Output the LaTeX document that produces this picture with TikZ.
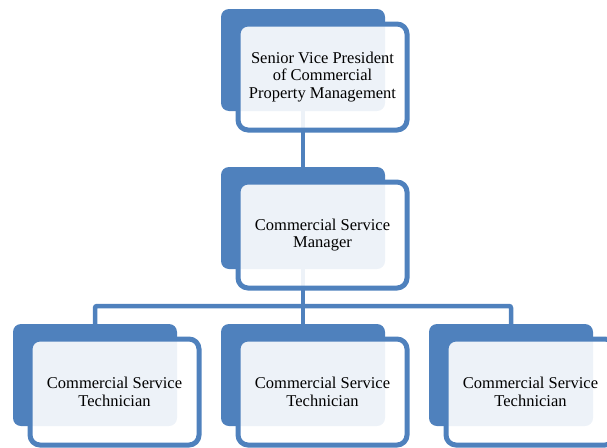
\documentclass[tikz,border=0pt]{standalone}
\usepackage{fontspec}
\setmainfont{Liberation Serif}
\usepackage{tikz}
\usetikzlibrary{positioning}
\definecolor{orgblue}{HTML}{4F81BD}
\pgfdeclarelayer{background}
\pgfsetlayers{background,main}

\begin{document}
\begin{tikzpicture}[x=1pt,y=-1pt,
	back/.style={fill=orgblue,rounded corners=8pt,minimum width=164pt,minimum height=102pt,inner sep=0pt,outer sep=0pt},
	front/.style={draw=orgblue,line width=5pt,fill=white,fill opacity=.9,text opacity=1,rounded corners=10pt,
		minimum width=169pt,minimum height=106pt,inner sep=0pt,outer sep=0pt,align=center,
		font=\fontsize{16.5}{17.5}\selectfont},
	link/.style={draw=orgblue,line width=4.5pt,rounded corners=2pt}]
	\useasboundingbox (0,0) rectangle (607,447);
	\clip (0,0) rectangle (607,447);
		% blue cards
		\node[back] (svp) at (303,60) {};
		\node[back] (csm) at (303,218) {};
		\node[back] (tech1) at (95,375) {};
		\node[back] (tech2) at (303,375) {};
		\node[back] (tech3) at (511,375) {};
		% framed labels
		\node[front] (svpt) at ([shift={(19.5,17)}]svp.center) {Senior Vice President\\of Commercial\\Property Management};
		\node[front] (csmt) at ([shift={(19.5,17)}]csm.center) {Commercial Service\\Manager};
		\node[front] (tech1t) at ([shift={(19.5,17)}]tech1.center) {Commercial Service\\Technician};
		\node[front] (tech2t) at ([shift={(19.5,17)}]tech2.center) {Commercial Service\\Technician};
		\node[front] (tech3t) at ([shift={(19.5,17)}]tech3.center) {Commercial Service\\Technician};
		\coordinate (bus) at (303,306);
	\begin{pgfonlayer}{background}
		\draw[link] (svp.south) -- (csm.north);
		\draw[link] (csm.south) -- (tech2.north);
		\draw[link] (tech1.north) |- (bus) -| (tech3.north);
	\end{pgfonlayer}
\end{tikzpicture}
\end{document}
